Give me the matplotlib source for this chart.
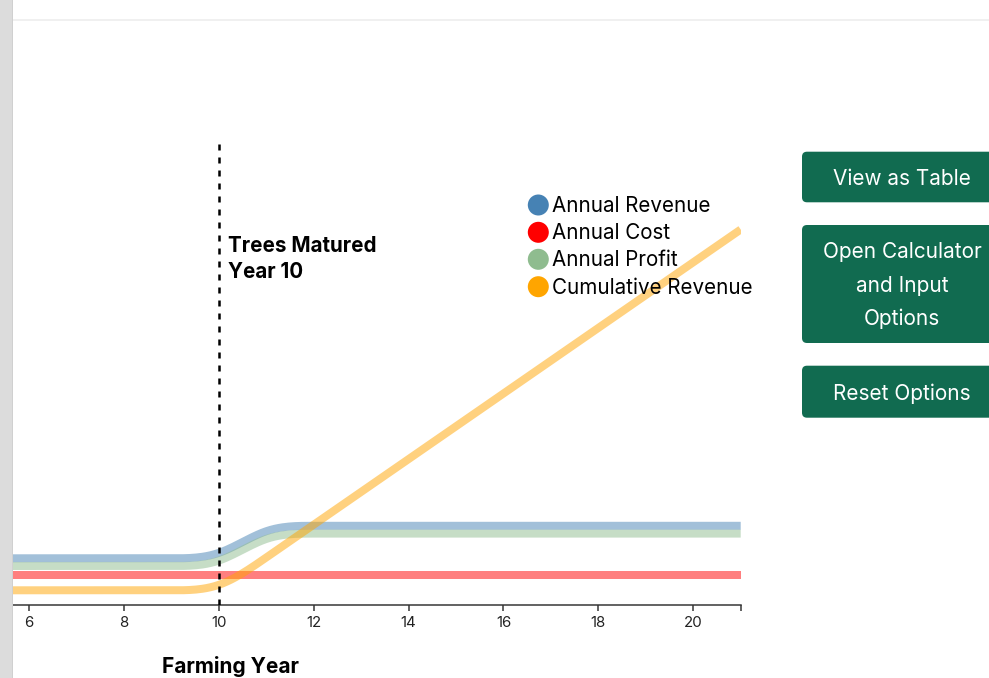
import numpy as np
import matplotlib
matplotlib.use("Agg")
import matplotlib.pyplot as plt
from matplotlib.patches import FancyBboxPatch, Circle, Rectangle

plt.rcParams['font.family'] = ['Inter', 'DejaVu Sans']
plt.rcParams['lines.scale_dashes'] = False

# ---------------- data ----------------
years = [1, 2, 3, 4, 5, 6, 7, 8, 9, 10, 11, 12, 13, 14, 15, 16, 17, 18, 19, 20, 21]
annual_revenue = [4700, 4700, 4700, 4700, 4700, 4700, 4700, 4700, 4700, 4700,
                  7950, 7950, 7950, 7950, 7950, 7950, 7950, 7950, 7950, 7950, 7950]
annual_cost = [3030, 3030, 3030, 3030, 3030, 3030, 3030, 3030, 3030, 3030,
               3030, 3030, 3030, 3030, 3030, 3030, 3030, 3030, 3030, 3030, 3030]
annual_profit = [3930, 3930, 3930, 3930, 3930, 3930, 3930, 3930, 3930, 3930,
                 7170, 7170, 7170, 7170, 7170, 7170, 7170, 7170, 7170, 7170, 7170]
cumulative_revenue = [1500, 1500, 1500, 1500, 1500, 1500, 1500, 1500, 1500, 1500,
                      4780, 8060, 11340, 14620, 17900, 21180, 24460, 27740, 31020, 34300, 37580]
series_names = ["Annual Revenue", "Annual Cost", "Annual Profit", "Cumulative Revenue"]
x_ticks = [6, 8, 10, 12, 14, 16, 18, 20]
maturity_year = 10
annotation_lines = ["Trees Matured", "Year 10"]
button_labels = [["View as Table"], ["Open Calculator", "and Input", "Options"], ["Reset Options"]]

colors = ["#4682b4", "#ff0000", "#8fbc8f", "#ffa500"]

W, H = 989, 678
fig = plt.figure(figsize=(W / 100, H / 100), dpi=100)
fig.patch.set_facecolor("white")


def px(v):
    return v * 72 / 100.0


def basis(xs, ys, n=24):
    xs = np.asarray(xs, float)
    ys = np.asarray(ys, float)
    bx = np.r_[xs[0], xs[0], xs, xs[-1], xs[-1]]
    by = np.r_[ys[0], ys[0], ys, ys[-1], ys[-1]]
    t = np.linspace(0, 1, n)
    b0 = (1 - t) ** 3 / 6
    b1 = (3 * t ** 3 - 6 * t ** 2 + 4) / 6
    b2 = (-3 * t ** 3 + 3 * t ** 2 + 3 * t + 1) / 6
    b3 = t ** 3 / 6
    ox, oy = [], []
    for i in range(len(bx) - 3):
        ox.append(b0 * bx[i] + b1 * bx[i + 1] + b2 * bx[i + 2] + b3 * bx[i + 3])
        oy.append(b0 * by[i] + b1 * by[i + 1] + b2 * by[i + 2] + b3 * by[i + 3])
    return np.concatenate(ox), np.concatenate(oy)


# main axes (pixel placement)
ax_l, ax_r, ax_t, ax_b = 12.7, 740.7, 143, 605.3
ax = fig.add_axes([ax_l / W, 1 - ax_b / H, (ax_r - ax_l) / W, (ax_b - ax_t) / H], zorder=1)
ax.patch.set_alpha(0)
ax.set_xlim(6 - (29 - ax_l) / 47.4, 21)
ax.set_ylim(0, (ax_b - ax_t) * 100)

for vals, c in zip([annual_revenue, annual_cost, annual_profit, cumulative_revenue], colors):
    sx, sy = basis(years, vals)
    ax.plot(sx, sy, color=c, alpha=0.5, lw=px(8), solid_capstyle="butt", zorder=2)

ax.axvline(maturity_year, color="black", lw=px(2.5), dashes=(px(6), px(7)), zorder=3)
for line, yb in zip(annotation_lines, [251.7, 278.3]):
    ax.text(maturity_year + 0.19, (ax_b - yb) * 100, line,
            fontsize=px(20.6), fontweight="bold", ha="left", va="baseline",
            color="black", zorder=4)

for s in ["top", "left", "right"]:
    ax.spines[s].set_visible(False)
ax.spines["bottom"].set_color("#333333")
ax.spines["bottom"].set_linewidth(px(1.5))
ax.set_yticks([])
ax.set_xticks(x_ticks)
ax.set_xticklabels([str(v) for v in x_ticks])
ax.set_xticks([21], minor=True)
ax.tick_params(axis="x", which="both", direction="out", length=px(6), width=px(1.5),
               color="#333333", labelsize=px(15), labelcolor="#222222", pad=px(4.5))
ax.set_xlabel("Farming Year", fontsize=px(20.9), fontweight="bold")
ax.xaxis.set_label_coords((231 - ax_l) / (ax_r - ax_l), -(673.3 - ax_b) / (ax_b - ax_t))
ax.xaxis.label.set_va("baseline")

# overlay in pixel coordinates
ov = fig.add_axes([0, 0, 1, 1], zorder=5)
ov.set_xlim(0, W)
ov.set_ylim(H, 0)
ov.axis("off")
ov.patch.set_alpha(0)

# left gray panel & top border
ov.add_patch(Rectangle((0, 0), 12, H, facecolor="#dcdcdc", edgecolor="none"))
ov.add_patch(Rectangle((11.5, 0), 1.2, H, facecolor="#d0d0d0", edgecolor="none"))
ov.add_patch(Rectangle((12.7, 18.8), W, 2, facecolor="#f0f0f0", edgecolor="none"))

# legend
leg_y = [205, 232.3, 259.3, 286.7]
for name, c, y in zip(series_names, colors, leg_y):
    ov.add_patch(Circle((538.3, y), 10.5, facecolor=c, edgecolor="none"))
    ov.text(551.7, y + 7, name, fontsize=px(20.6), color="black", ha="left", va="baseline")

# buttons
btn_boxes = [(151.7, 202.3), (225, 343), (365.7, 417.7)]
btn_text_y = [[177.7], [251, 285, 317.7], [393]]
green = "#116b50"
for (top, bot), lines, ys in zip(btn_boxes, button_labels, btn_text_y):
    ov.add_patch(FancyBboxPatch((802, top), 220, bot - top,
                                boxstyle="round,pad=0,rounding_size=5",
                                facecolor=green, edgecolor="none"))
    for line, yc in zip(lines, ys):
        ov.text(902, yc + 7.3, line, fontsize=px(20.8), color="white",
                ha="center", va="baseline")

fig.savefig("out.png", dpi=100)
